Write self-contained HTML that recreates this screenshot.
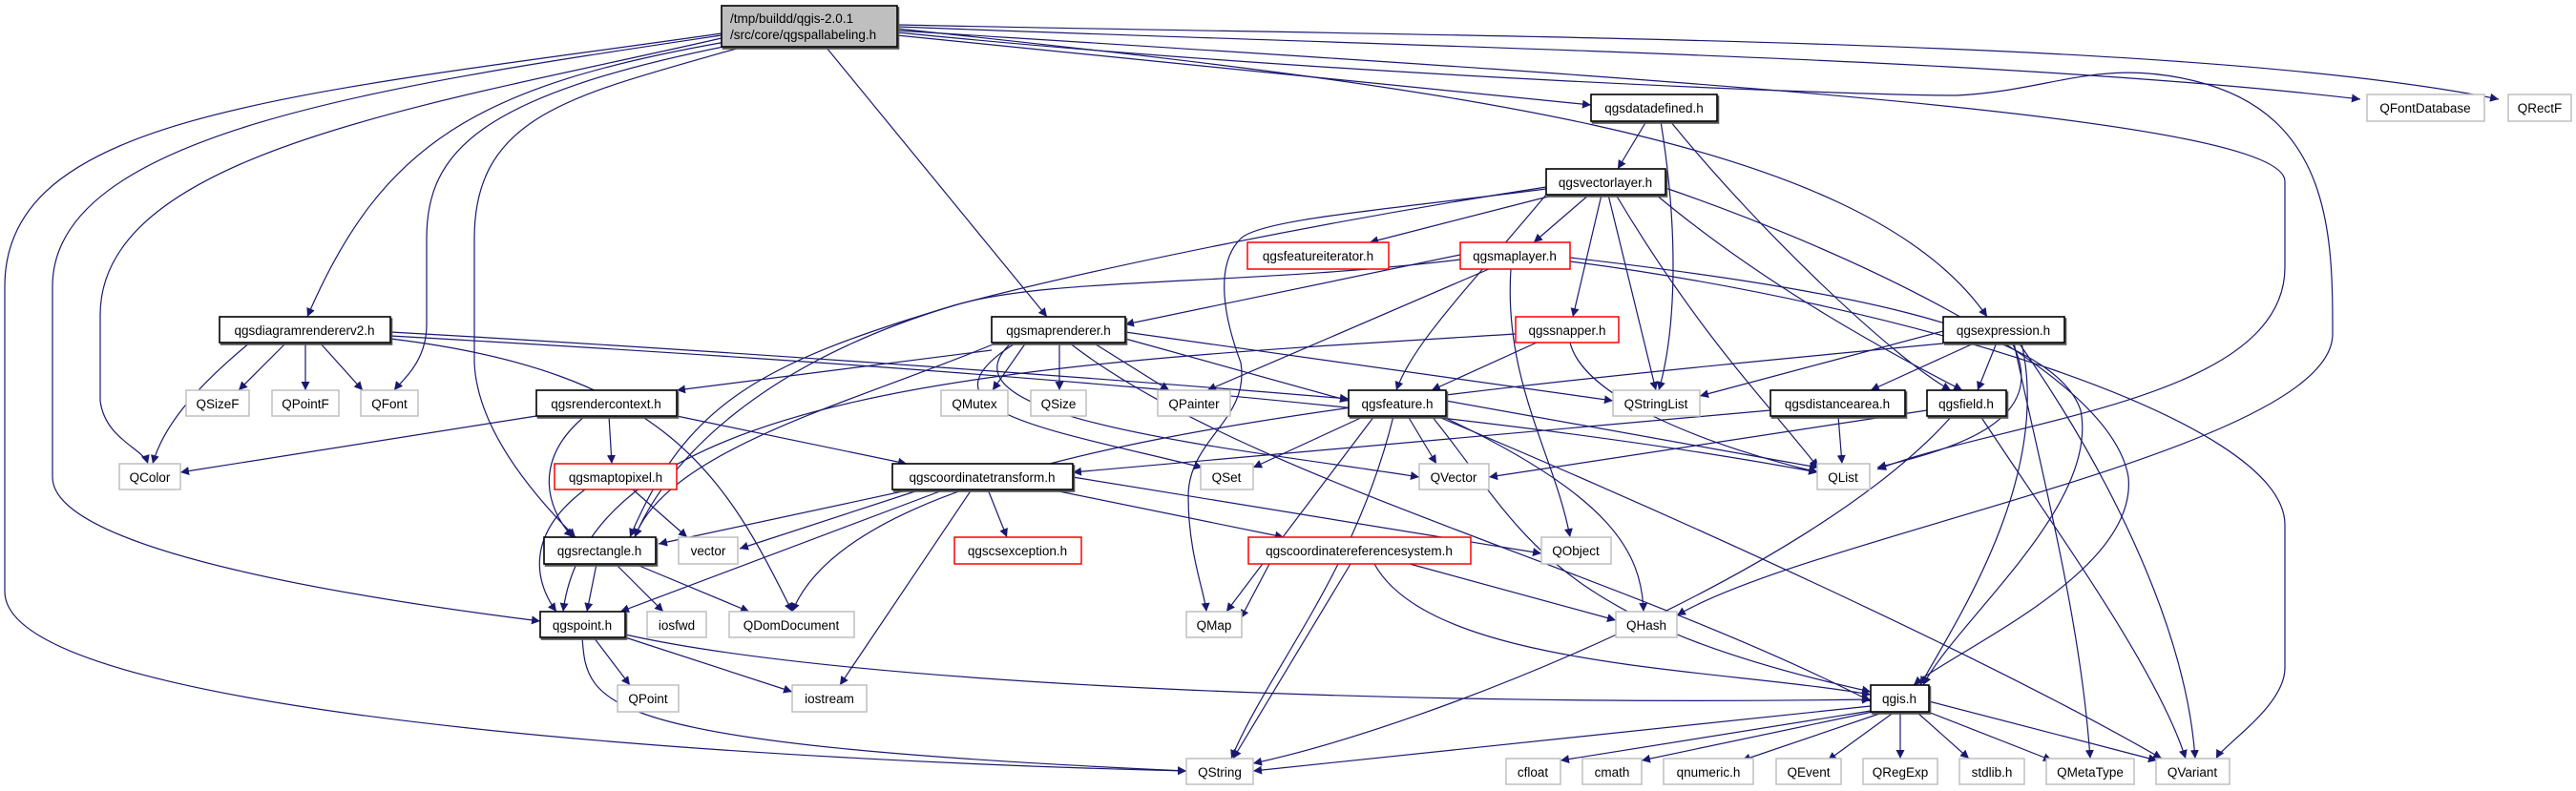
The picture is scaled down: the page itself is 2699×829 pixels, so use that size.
<!DOCTYPE html>
<html><head><meta charset="utf-8"><style>
html,body{margin:0;padding:0;background:#fff;}
svg{display:block}
text{font-family:"Liberation Sans",sans-serif;font-size:13.5px;fill:#000;text-anchor:middle}
.e{fill:none;stroke:#191970;stroke-width:1.2;marker-end:url(#a)}
.d{fill:#fff;stroke:#000;stroke-width:1.6;filter:url(#s)}
.x{fill:#fff;stroke:#bfbfbf;stroke-width:1.5}
.r{fill:#fff;stroke:#ff0000;stroke-width:1.5}
</style></head><body>
<svg width="2699" height="829" viewBox="0 0 2699 829" xmlns="http://www.w3.org/2000/svg">
<defs><marker id="a" viewBox="0 0 10 10" refX="10" refY="5" markerWidth="9" markerHeight="9" orient="auto" markerUnits="userSpaceOnUse"><path d="M0,0 L10,5 L0,10 z" fill="#191970"/></marker>
<filter id="s" x="-5%" y="-10%" width="110%" height="130%"><feDropShadow dx="1.5" dy="2" stdDeviation="0" flood-color="#555"/></filter></defs>
<g>
<path class="e" d="M756,35 C300,100 5,120 5,300 L5,620 C5,760 900,800 1243,808"/>
<path class="e" d="M756,37 C400,90 55,140 55,300 L55,500 C55,580 400,630 566,651"/>
<path class="e" d="M756,40 C450,110 105,160 105,330 L105,420 C110,460 150,470 155,486"/>
<path class="e" d="M760,44 C500,90 400,150 322,332"/>
<path class="e" d="M768,47 C500,100 447,160 447,250 L447,340 C447,380 420,400 413,409"/>
<path class="e" d="M775,50 C600,100 497,120 497,250 L497,380 C500,450 560,520 603,563"/>
<path class="e" d="M866,50 L1097,332"/>
<path class="e" d="M940,37 L1667,110"/>
<path class="e" d="M940,30 C1500,90 1950,140 2082,332"/>
<path class="e" d="M940,28 C1500,50 2100,60 2473,104"/>
<path class="e" d="M940,26 C1600,40 2300,40 2618,104"/>
<path class="e" d="M940,32 C1700,80 2394,120 2394,190 L2394,280 C2394,420 2100,440 1967,492"/>
<path class="e" d="M940,34 C1400,80 1950,100 2050,100 C2150,95 2200,60 2300,85 C2444,120 2444,250 2444,350 C2444,470 1900,560 1757,645"/>
<path class="e" d="M1725,127 L1695,177"/>
<path class="e" d="M1740,127 C1760,250 1755,350 1738,409"/>
<path class="e" d="M1750,127 C1850,250 1990,380 2044,409"/>
<path class="e" d="M1630,204 L1435,254"/>
<path class="e" d="M1665,204 L1607,254"/>
<path class="e" d="M1678,204 L1648,332"/>
<path class="e" d="M1685,204 L1735,409"/>
<path class="e" d="M1693,204 C1780,350 1850,420 1905,490"/>
<path class="e" d="M1620,204 C1540,300 1480,360 1463,409"/>
<path class="e" d="M1620,198 C1450,220 1320,230 1300,250 C1270,280 1285,340 1300,380 C1310,440 1245,460 1245,520 C1245,580 1262,620 1264,641"/>
<path class="e" d="M1620,196 C1400,230 1150,280 1000,320 C800,380 700,480 665,563"/>
<path class="e" d="M1735,204 C1850,300 1980,370 2056,409"/>
<path class="e" d="M1745,197 C1900,250 2210,380 2230,500 C2240,600 2050,680 2005,718"/>
<path class="e" d="M1530,267 L1179,340"/>
<path class="e" d="M1530,272 C1300,300 1100,290 1000,320 C800,380 720,420 660,563"/>
<path class="e" d="M1560,282 L1265,409"/>
<path class="e" d="M1583,282 C1575,400 1630,480 1645,563"/>
<path class="e" d="M1645,270 C1900,300 2150,340 2180,430 C2200,530 2050,650 2015,718"/>
<path class="e" d="M1645,274 C2000,320 2394,440 2394,550 L2394,700 C2394,740 2330,780 2322,795"/>
<path class="e" d="M1610,359 L1500,409"/>
<path class="e" d="M1645,359 C1660,420 1800,470 1905,495"/>
<path class="e" d="M1588,350 C1100,380 620,400 590,641"/>
<path class="e" d="M2036,347 L1781,415"/>
<path class="e" d="M2036,360 C1400,420 900,470 830,641"/>
<path class="e" d="M2070,359 L1960,409"/>
<path class="e" d="M2092,359 L2072,409"/>
<path class="e" d="M2108,359 C2150,440 2050,470 1967,490"/>
<path class="e" d="M2110,359 C2140,500 2180,650 2190,795"/>
<path class="e" d="M2115,359 C2200,480 2290,650 2300,795"/>
<path class="e" d="M2118,359 C2150,500 2050,650 2012,718"/>
<path class="e" d="M300,359 L250,409"/>
<path class="e" d="M320,359 L320,409"/>
<path class="e" d="M335,359 L380,409"/>
<path class="e" d="M262,359 C200,410 170,450 160,486"/>
<path class="e" d="M409,348 C800,370 1200,400 1413,418"/>
<path class="e" d="M409,352 C900,380 1500,420 1904,495"/>
<path class="e" d="M409,355 C700,390 760,500 830,641"/>
<path class="e" d="M1039,367 L709,409"/>
<path class="e" d="M1045,359 C900,420 700,470 665,563"/>
<path class="e" d="M1075,359 L1040,409"/>
<path class="e" d="M1110,359 L1110,409"/>
<path class="e" d="M1145,359 L1225,409"/>
<path class="e" d="M1179,355 L1413,420"/>
<path class="e" d="M1179,348 L1690,420"/>
<path class="e" d="M1065,359 C950,430 1100,450 1260,490"/>
<path class="e" d="M1060,359 C970,440 1300,470 1487,500"/>
<path class="e" d="M1120,359 C1300,500 1700,600 1960,735"/>
<path class="e" d="M562,436 L189,495"/>
<path class="e" d="M638,436 L641,486"/>
<path class="e" d="M709,436 L950,486"/>
<path class="e" d="M613,436 C560,480 570,530 600,563"/>
<path class="e" d="M613,513 C550,560 560,610 583,641"/>
<path class="e" d="M663,513 L720,563"/>
<path class="e" d="M955,513 L690,570"/>
<path class="e" d="M965,513 L775,575"/>
<path class="e" d="M990,513 L650,641"/>
<path class="e" d="M1018,513 L880,718"/>
<path class="e" d="M1035,513 L1055,563"/>
<path class="e" d="M1100,513 L1345,563"/>
<path class="e" d="M1124,500 L1615,580"/>
<path class="e" d="M625,591 L615,641"/>
<path class="e" d="M645,591 L695,641"/>
<path class="e" d="M665,591 L785,641"/>
<path class="e" d="M622,668 L660,718"/>
<path class="e" d="M655,668 L830,725"/>
<path class="e" d="M610,668 C615,740 620,780 1243,808"/>
<path class="e" d="M655,665 C900,720 1500,740 1960,733"/>
<path class="e" d="M1430,436 L1313,490"/>
<path class="e" d="M1475,436 L1505,486"/>
<path class="e" d="M1515,420 L1905,490"/>
<path class="e" d="M1440,436 L1285,641"/>
<path class="e" d="M1460,436 C1420,600 1330,700 1290,795"/>
<path class="e" d="M1510,436 C1690,520 1720,580 1722,641"/>
<path class="e" d="M1505,436 C1800,560 2100,700 2265,795"/>
<path class="e" d="M1500,436 C1600,560 1620,650 1960,725"/>
<path class="e" d="M1855,430 L1124,495"/>
<path class="e" d="M1926,436 L1930,486"/>
<path class="e" d="M2019,430 L1560,500"/>
<path class="e" d="M2045,436 C1900,600 1500,760 1313,800"/>
<path class="e" d="M2075,436 C2150,550 2260,700 2290,795"/>
<path class="e" d="M1330,591 L1300,648"/>
<path class="e" d="M1415,591 L1292,795"/>
<path class="e" d="M1477,591 L1693,650"/>
<path class="e" d="M1440,591 C1500,700 1800,700 1960,728"/>
<path class="e" d="M1960,740 L1313,808"/>
<path class="e" d="M1960,745 L1635,797"/>
<path class="e" d="M1962,746 L1720,797"/>
<path class="e" d="M1975,746 L1825,797"/>
<path class="e" d="M1985,746 L1915,797"/>
<path class="e" d="M1991,746 L1991,795"/>
<path class="e" d="M2008,746 L2063,795"/>
<path class="e" d="M2020,746 L2150,797"/>
<path class="e" d="M2021,735 L2260,797"/>
</g>
<g>
<rect x="756" y="6" width="184" height="43" fill="#bfbfbf" stroke="#000" stroke-width="1.6" filter="url(#s)"/>
<text x="765" y="24" style="text-anchor:start">/tmp/buildd/qgis-2.0.1</text>
<text x="765" y="41" style="text-anchor:start">/src/core/qgspallabeling.h</text>

<rect class="d" x="1667" y="99" width="132" height="28"/><text x="1733" y="118">qgsdatadefined.h</text>
<rect class="x" x="2480" y="99" width="123" height="28"/><text x="2541" y="118">QFontDatabase</text>
<rect class="x" x="2628" y="99" width="66" height="28"/><text x="2661" y="118">QRectF</text>
<rect class="d" x="1620" y="177" width="125" height="27"/><text x="1682" y="196">qgsvectorlayer.h</text>
<rect class="r" x="1307" y="254" width="148" height="28"/><text x="1381" y="273">qgsfeatureiterator.h</text>
<rect class="r" x="1530" y="254" width="115" height="28"/><text x="1587" y="273">qgsmaplayer.h</text>
<rect class="d" x="230" y="332" width="179" height="27"/><text x="319" y="351">qgsdiagramrendererv2.h</text>
<rect class="d" x="1039" y="332" width="140" height="27"/><text x="1109" y="351">qgsmaprenderer.h</text>
<rect class="r" x="1588" y="332" width="108" height="27"/><text x="1642" y="351">qgssnapper.h</text>
<rect class="d" x="2036" y="332" width="127" height="27"/><text x="2099" y="351">qgsexpression.h</text>

<rect class="x" x="195" y="409" width="66" height="27"/><text x="228" y="428">QSizeF</text>
<rect class="x" x="285" y="409" width="70" height="27"/><text x="320" y="428">QPointF</text>
<rect class="x" x="378" y="409" width="60" height="27"/><text x="408" y="428">QFont</text>
<rect class="d" x="562" y="409" width="147" height="27"/><text x="635" y="428">qgsrendercontext.h</text>
<rect class="x" x="986" y="409" width="70" height="27"/><text x="1021" y="428">QMutex</text>
<rect class="x" x="1080" y="409" width="58" height="27"/><text x="1109" y="428">QSize</text>
<rect class="x" x="1213" y="409" width="76" height="27"/><text x="1251" y="428">QPainter</text>
<rect class="d" x="1413" y="409" width="102" height="27"/><text x="1464" y="428">qgsfeature.h</text>
<rect class="x" x="1690" y="409" width="91" height="27"/><text x="1735" y="428">QStringList</text>
<rect class="d" x="1855" y="409" width="141" height="27"/><text x="1925" y="428">qgsdistancearea.h</text>
<rect class="d" x="2019" y="409" width="83" height="27"/><text x="2060" y="428">qgsfield.h</text>

<rect class="x" x="125" y="486" width="64" height="27"/><text x="157" y="505">QColor</text>
<rect class="r" x="581" y="486" width="128" height="27"/><text x="645" y="505">qgsmaptopixel.h</text>
<rect class="d" x="935" y="486" width="189" height="27"/><text x="1029" y="505">qgscoordinatetransform.h</text>
<rect class="x" x="1258" y="486" width="55" height="27"/><text x="1285" y="505">QSet</text>
<rect class="x" x="1487" y="486" width="73" height="27"/><text x="1523" y="505">QVector</text>
<rect class="x" x="1904" y="486" width="55" height="27"/><text x="1931" y="505">QList</text>

<rect class="d" x="570" y="563" width="117" height="28"/><text x="628" y="582">qgsrectangle.h</text>
<rect class="x" x="711" y="563" width="62" height="28"/><text x="742" y="582">vector</text>
<rect class="r" x="1000" y="563" width="133" height="28"/><text x="1066" y="582">qgscsexception.h</text>
<rect class="r" x="1308" y="563" width="233" height="28"/><text x="1424" y="582">qgscoordinatereferencesystem.h</text>
<rect class="x" x="1615" y="563" width="73" height="28"/><text x="1651" y="582">QObject</text>

<rect class="d" x="566" y="641" width="89" height="27"/><text x="610" y="660">qgspoint.h</text>
<rect class="x" x="678" y="641" width="62" height="27"/><text x="709" y="660">iosfwd</text>
<rect class="x" x="764" y="641" width="131" height="27"/><text x="829" y="660">QDomDocument</text>
<rect class="x" x="1243" y="641" width="58" height="27"/><text x="1272" y="660">QMap</text>
<rect class="x" x="1693" y="641" width="64" height="27"/><text x="1725" y="660">QHash</text>

<rect class="x" x="647" y="718" width="64" height="28"/><text x="679" y="737">QPoint</text>
<rect class="x" x="830" y="718" width="78" height="28"/><text x="869" y="737">iostream</text>
<rect class="d" x="1960" y="718" width="61" height="28"/><text x="1990" y="737">qgis.h</text>

<rect class="x" x="1243" y="795" width="70" height="27"/><text x="1278" y="814">QString</text>
<rect class="x" x="1578" y="795" width="57" height="27"/><text x="1606" y="814">cfloat</text>
<rect class="x" x="1658" y="795" width="62" height="27"/><text x="1689" y="814">cmath</text>
<rect class="x" x="1743" y="795" width="94" height="27"/><text x="1790" y="814">qnumeric.h</text>
<rect class="x" x="1861" y="795" width="68" height="27"/><text x="1895" y="814">QEvent</text>
<rect class="x" x="1952" y="795" width="78" height="27"/><text x="1991" y="814">QRegExp</text>
<rect class="x" x="2053" y="795" width="68" height="27"/><text x="2087" y="814">stdlib.h</text>
<rect class="x" x="2144" y="795" width="92" height="27"/><text x="2190" y="814">QMetaType</text>
<rect class="x" x="2259" y="795" width="77" height="27"/><text x="2297" y="814">QVariant</text>
</g>
</svg>
</body></html>
